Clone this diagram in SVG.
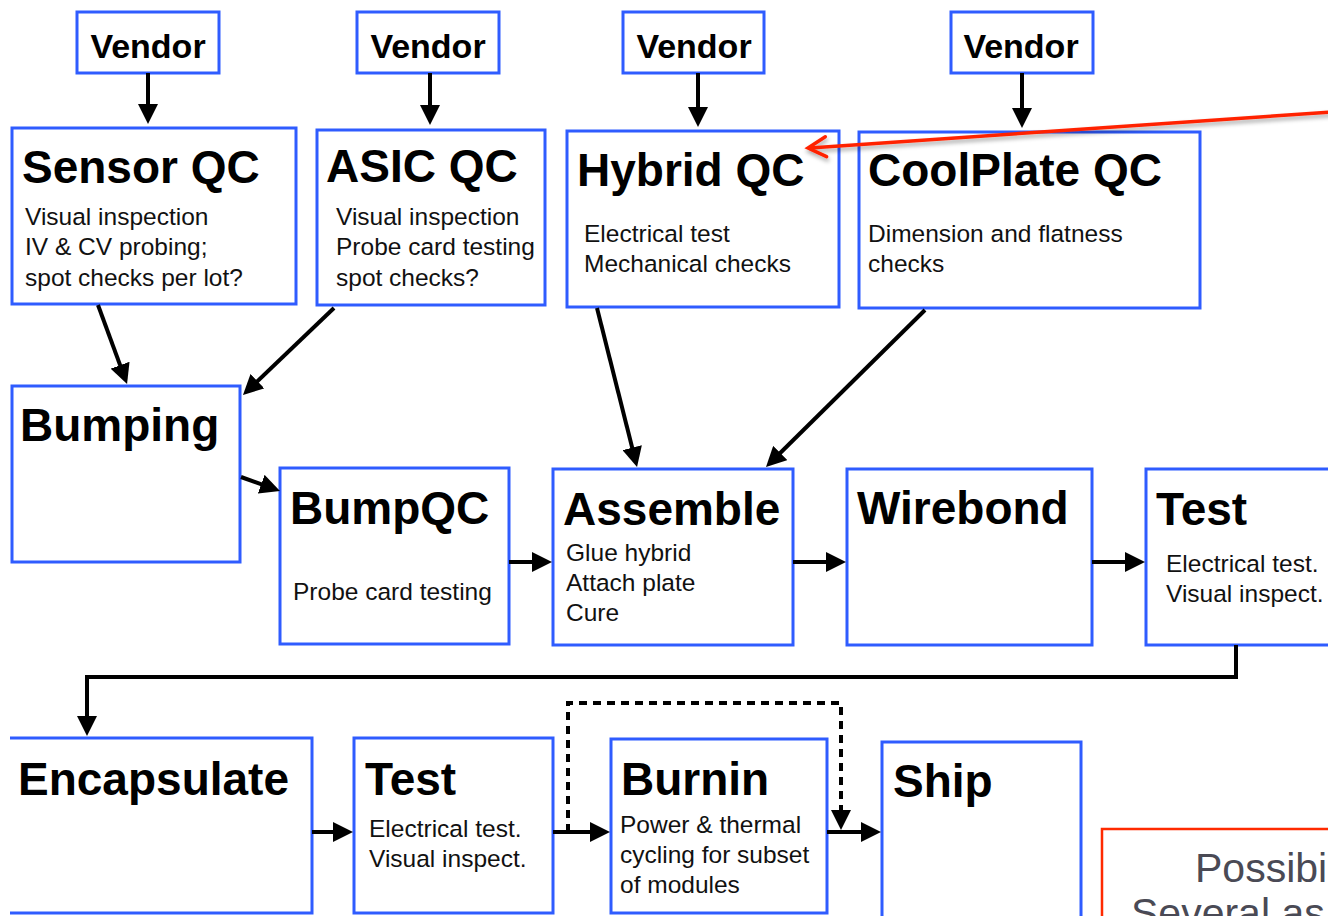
<svg xmlns="http://www.w3.org/2000/svg" width="1328" height="916" viewBox="0 0 1328 916">
<style>
.box{fill:#fff;stroke:#2f5cff;stroke-width:3}
.t{font-family:"Liberation Sans",Arial,sans-serif;font-weight:bold;font-size:46px;fill:#000}
.v{font-family:"Liberation Sans",Arial,sans-serif;font-weight:bold;font-size:34px;fill:#000;text-anchor:middle}
.b{font-family:"Liberation Sans",Arial,sans-serif;font-size:24.5px;fill:#111}
.c{fill:none;stroke:#000;stroke-width:4}
.d{fill:none;stroke:#000;stroke-width:4;stroke-dasharray:8 6}
.n{font-family:"Liberation Sans",Arial,sans-serif;font-size:41px;fill:#4a4a55}
</style>
<defs>
<marker id="ah" viewBox="0 0 10 10" refX="5" refY="5" markerWidth="20" markerHeight="20" markerUnits="userSpaceOnUse" orient="auto">
<path d="M0,0 L10,5 L0,10 z" fill="#000"/>
</marker>
<filter id="sh" x="-10%" y="-50%" width="120%" height="200%">
<feDropShadow dx="1" dy="3" stdDeviation="2" flood-color="#000" flood-opacity="0.35"/>
</filter>
</defs>
<rect width="1328" height="916" fill="#fff"/>

<g id="vendor1"><rect class="box" x="77" y="12" width="142" height="61"/><text class="v" x="148" y="58">Vendor</text></g>
<g id="vendor2"><rect class="box" x="357" y="12" width="142" height="61"/><text class="v" x="428" y="58">Vendor</text></g>
<g id="vendor3"><rect class="box" x="623" y="12" width="141" height="61"/><text class="v" x="694" y="58">Vendor</text></g>
<g id="vendor4"><rect class="box" x="951" y="12" width="142" height="61"/><text class="v" x="1021" y="58">Vendor</text></g>

<g id="sensorqc"><rect class="box" x="12" y="128" width="284" height="176"/>
<text class="t" x="22" y="183">Sensor QC</text>
<text class="b" x="25" y="225">Visual inspection</text>
<text class="b" x="25" y="255">IV &amp; CV probing;</text>
<text class="b" x="25" y="286">spot checks per lot?</text></g>

<g id="asicqc"><rect class="box" x="317" y="130" width="228" height="175"/>
<text class="t" x="326" y="182">ASIC QC</text>
<text class="b" x="336" y="225">Visual inspection</text>
<text class="b" x="336" y="255">Probe card testing</text>
<text class="b" x="336" y="286">spot checks?</text></g>

<g id="hybridqc"><rect class="box" x="567" y="131" width="272" height="176"/>
<text class="t" x="577" y="186">Hybrid QC</text>
<text class="b" x="584" y="242">Electrical test</text>
<text class="b" x="584" y="272">Mechanical checks</text></g>

<g id="coolplateqc"><rect class="box" x="859" y="132" width="341" height="176"/>
<text class="t" x="868" y="186">CoolPlate QC</text>
<text class="b" x="868" y="242">Dimension and flatness</text>
<text class="b" x="868" y="272">checks</text></g>

<g id="bumping"><rect class="box" x="12" y="386" width="228" height="176"/>
<text class="t" x="20" y="441">Bumping</text></g>

<g id="bumpqc"><rect class="box" x="280" y="468" width="229" height="176"/>
<text class="t" x="290" y="524">BumpQC</text>
<text class="b" x="293" y="600">Probe card testing</text></g>

<g id="assemble"><rect class="box" x="553" y="469" width="240" height="176"/>
<text class="t" x="563" y="525">Assemble</text>
<text class="b" x="566" y="561">Glue hybrid</text>
<text class="b" x="566" y="591">Attach plate</text>
<text class="b" x="566" y="621">Cure</text></g>

<g id="wirebond"><rect class="box" x="847" y="469" width="245" height="176"/>
<text class="t" x="857" y="524">Wirebond</text></g>

<g id="test1"><rect class="box" x="1146" y="469" width="200" height="176"/>
<text class="t" x="1156" y="525">Test</text>
<text class="b" x="1166" y="572">Electrical test.</text>
<text class="b" x="1166" y="602">Visual inspect.</text></g>

<g id="encapsulate"><rect x="0" y="738" width="312" height="175" fill="#fff"/>
<path d="M10,738 H312 V913 H10" fill="none" stroke="#2f5cff" stroke-width="3"/>
<text class="t" x="18" y="795">Encapsulate</text></g>

<g id="test2"><rect class="box" x="354" y="738" width="199" height="175"/>
<text class="t" x="365" y="795">Test</text>
<text class="b" x="369" y="837">Electrical test.</text>
<text class="b" x="369" y="867">Visual inspect.</text></g>

<g id="burnin"><rect class="box" x="611" y="739" width="216" height="174"/>
<text class="t" x="621" y="795">Burnin</text>
<text class="b" x="620" y="833">Power &amp; thermal</text>
<text class="b" x="620" y="863">cycling for subset</text>
<text class="b" x="620" y="893">of modules</text></g>

<g id="ship"><rect class="box" x="882" y="742" width="199" height="190"/>
<text class="t" x="893" y="797">Ship</text></g>

<g id="note"><rect x="1102" y="829" width="240" height="100" fill="#fff" stroke="#ff2a00" stroke-width="2.5"/>
<text class="n" x="1195" y="882">Possibi</text>
<text class="n" x="1131" y="927">Several as</text></g>

<g id="connectors">
<line class="c" x1="148" y1="73" x2="148" y2="114" marker-end="url(#ah)"/>
<line class="c" x1="430" y1="73" x2="430" y2="115" marker-end="url(#ah)"/>
<line class="c" x1="698" y1="73" x2="698" y2="117" marker-end="url(#ah)"/>
<line class="c" x1="1022" y1="73" x2="1022" y2="118" marker-end="url(#ah)"/>
<line class="c" x1="98" y1="305" x2="123.6" y2="374.6" marker-end="url(#ah)"/>
<line class="c" x1="334" y1="308" x2="250.2" y2="388.1" marker-end="url(#ah)"/>
<line class="c" x1="241" y1="477" x2="270.6" y2="487.6" marker-end="url(#ah)"/>
<line class="c" x1="597" y1="308" x2="634.6" y2="457.3" marker-end="url(#ah)"/>
<line class="c" x1="925" y1="310" x2="773.1" y2="460" marker-end="url(#ah)"/>
<line class="c" x1="509" y1="562" x2="542" y2="562" marker-end="url(#ah)"/>
<line class="c" x1="793" y1="562" x2="836" y2="562" marker-end="url(#ah)"/>
<line class="c" x1="1092" y1="562" x2="1135" y2="562" marker-end="url(#ah)"/>
<path class="c" d="M1236,645 V677 H87 V726" marker-end="url(#ah)"/>
<line class="c" x1="312" y1="832" x2="343" y2="832" marker-end="url(#ah)"/>
<line class="c" x1="553" y1="832" x2="600" y2="832" marker-end="url(#ah)"/>
<line class="c" x1="827" y1="832" x2="871" y2="832" marker-end="url(#ah)"/>
<path class="d" d="M568,832 V703 H841 V820" marker-end="url(#ah)"/>
<g filter="url(#sh)" fill="none" stroke="#ff2200" stroke-width="3.5" stroke-linecap="round">
<line x1="1332" y1="112" x2="810" y2="148"/>
<polyline points="825.3,136.8 808,148 826.6,156.7"/>
</g>
</g>
</svg>
